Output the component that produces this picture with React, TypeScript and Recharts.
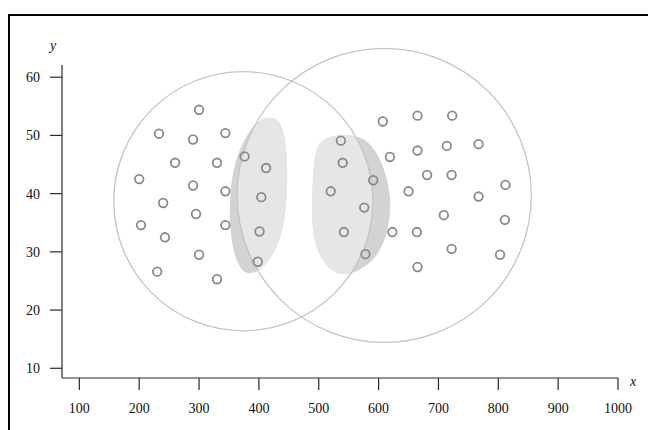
import React from 'react';
import { ScatterChart, Scatter, XAxis, YAxis, Curve } from 'recharts';

// ---- data ----
const xTicks = [100, 200, 300, 400, 500, 600, 700, 800, 900, 1000];
const yTicks = [10, 20, 30, 40, 50, 60];
const xDomain = [71, 1000];
const yDomain = [8.33, 62.1];

const leftClusterX = [300, 233, 290, 344, 260, 330, 376, 412, 200, 290, 344, 404, 240, 295, 203, 344, 401, 243, 300, 230, 330, 398];
const leftClusterY = [54.4, 50.3, 49.3, 50.4, 45.3, 45.3, 46.4, 44.4, 42.5, 41.4, 40.4, 39.4, 38.4, 36.5, 34.6, 34.6, 33.5, 32.5, 29.5, 26.6, 25.3, 28.3];
const rightClusterX = [537, 540, 520, 591, 576, 542, 578, 607, 665, 723, 619, 665, 714, 767, 681, 722, 650, 767, 812, 709, 623, 664, 722, 811, 665, 803];
const rightClusterY = [49.1, 45.3, 40.4, 42.3, 37.6, 33.4, 29.6, 52.4, 53.4, 53.4, 46.3, 47.4, 48.2, 48.5, 43.2, 43.2, 40.4, 39.5, 41.5, 36.3, 33.4, 33.4, 30.5, 35.5, 27.4, 29.5];

// big circles: centre and radius (in x units)
const circleCentreX = [374, 609.4];
const circleCentreY = [38.7, 39.7];
const circleRadiusX = [216.5, 245.7];

// shaded blobs (outline points)
const blobLeftX = [419, 435.5, 444.5, 448, 446.5, 441.5, 429.5, 410.4, 388.7, 372.7, 360.5, 352.3, 350.7, 354.3, 364.5, 381.5, 398.7];
const blobLeftY = [53.3, 52.5, 49.5, 44.1, 38.95, 34.5, 30.5, 27.5, 26.1, 26.5, 28.8, 32.9, 38.1, 42.8, 46.9, 50.4, 52.6];
const blobRightX = [505.7, 535.8, 569.3, 590, 607, 618.7, 620.4, 615.4, 600, 569.3, 540.9, 515, 494.7, 488, 489.7, 491.4, 496.4];
const blobRightY = [49.4, 50.2, 49.9, 48.3, 45.1, 40.7, 37.3, 33.4, 29.3, 26.8, 25.8, 27.1, 30.5, 35.2, 40.7, 45.1, 47.9];

const zip = (xs: number[], ys: number[]) => xs.map((x, i) => ({ x, y: ys[i] }));

const points = [...zip(leftClusterX, leftClusterY), ...zip(rightClusterX, rightClusterY)];
const circleA = [
  { x: circleCentreX[0], y: circleCentreY[0] },
  { x: circleCentreX[0] + circleRadiusX[0], y: circleCentreY[0] },
];
const circleB = [
  { x: circleCentreX[1], y: circleCentreY[1] },
  { x: circleCentreX[1] + circleRadiusX[1], y: circleCentreY[1] },
];
const blobLeft = zip(blobLeftX, blobLeftY);
const blobRight = zip(blobRightX, blobRightY);

const DARK = '#d3d3d5';
const LIGHT = '#e6e6e8';
const CIRCLE = '#c4c4c4';
const AXIS = '#2a2a2a';
const FONT = '"Liberation Serif", "Times New Roman", serif';

const renderBigCircle = (id: string) => (props: any) => {
  const p = props.points || [];
  if (p.length < 2) return <g />;
  const r = Math.abs(p[1].x - p[0].x);
  return (
    <g>
      <defs>
        <clipPath id={id}>
          <circle cx={p[0].x} cy={p[0].y} r={r} />
        </clipPath>
      </defs>
      <circle cx={p[0].x} cy={p[0].y} r={r} fill="none" stroke={CIRCLE} strokeWidth={1.3} />
    </g>
  );
};

const renderBlob = (clipId: string) => (props: any) => {
  const p = props.points || [];
  return (
    <g>
      <Curve points={p} type="basisClosed" fill={DARK} stroke="none" />
      <g clipPath={`url(#${clipId})`}>
        <Curve points={p} type="basisClosed" fill={LIGHT} stroke="none" />
      </g>
    </g>
  );
};

const nothing = () => <g />;

const ringShape = (p: any) => (
  <circle cx={p.cx} cy={p.cy} r={4.3} fill="none" stroke="#8a8a8a" strokeWidth={1.8} />
);

export default function App() {
  return (
    <div>
      <div
        style={{
          position: 'absolute',
          left: 8,
          top: 14,
          width: 638,
          height: 414,
          borderLeft: '2px solid #000',
          borderTop: '2px solid #000',
        }}
      />
      <div style={{ position: 'absolute', left: 0, top: 0 }}>
        <ScatterChart width={648} height={430} margin={{ top: 65, right: 30, bottom: 12, left: 0 }}>
          <XAxis
            type="number"
            dataKey="x"
            domain={xDomain}
            ticks={xTicks}
            height={40}
            tickSize={12}
            tickMargin={13}
            axisLine={{ stroke: AXIS, strokeWidth: 1.2 }}
            tickLine={{ stroke: AXIS, strokeWidth: 1.2 }}
            tick={{ fill: '#111', fontSize: 14, fontFamily: FONT }}
            label={{
              content: (lp: any) => {
                const vb = lp.viewBox || { x: 62, y: 378, width: 556, height: 40 };
                return (
                  <text x={vb.x + vb.width + 15} y={vb.y + 8} textAnchor="middle" fontFamily={FONT} fontStyle="italic" fontSize={14} fill="#111">
                    x
                  </text>
                );
              },
            }}
          />
          <YAxis
            type="number"
            dataKey="y"
            domain={yDomain}
            ticks={yTicks}
            width={62}
            tickSize={12}
            tickMargin={10}
            axisLine={{ stroke: AXIS, strokeWidth: 1.2 }}
            tickLine={{ stroke: AXIS, strokeWidth: 1.2 }}
            tick={{ fill: '#111', fontSize: 14, fontFamily: FONT }}
            label={{
              content: (lp: any) => {
                const vb = lp.viewBox || { x: 0, y: 65, width: 62, height: 313 };
                return (
                  <text x={vb.x + vb.width - 9} y={vb.y - 15} textAnchor="middle" fontFamily={FONT} fontStyle="italic" fontSize={14} fill="#111">
                    y
                  </text>
                );
              },
            }}
          />
          <Scatter data={blobLeft} isAnimationActive={false} shape={nothing} line={renderBlob('clip-circle-b')} lineType="joint" />
          <Scatter data={blobRight} isAnimationActive={false} shape={nothing} line={renderBlob('clip-circle-a')} lineType="joint" />
          <Scatter data={circleA} isAnimationActive={false} shape={nothing} line={renderBigCircle('clip-circle-a')} lineType="joint" />
          <Scatter data={circleB} isAnimationActive={false} shape={nothing} line={renderBigCircle('clip-circle-b')} lineType="joint" />
          <Scatter data={points} isAnimationActive={false} shape={ringShape} />
        </ScatterChart>
      </div>
    </div>
  );
}
